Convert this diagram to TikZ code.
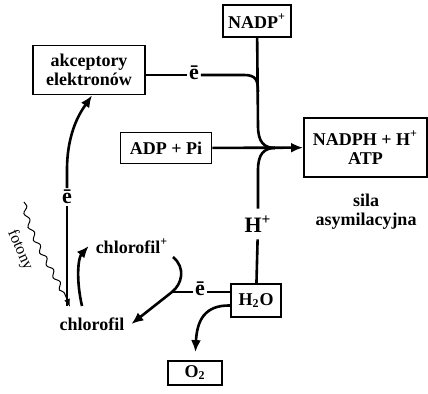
\documentclass[tikz,border=0pt]{standalone}
\usepackage{fontspec}
\setmainfont{Liberation Serif}
\usetikzlibrary{arrows.meta,decorations.pathmorphing}

\begin{document}
\begin{tikzpicture}[x=0.5pt,y=-0.5pt,
  font=\fontsize{9}{9.5}\selectfont\bfseries,
  box/.style={draw, line width=0.9pt, align=center, inner sep=1pt},
  line/.style={line width=1.3pt},
  arr/.style={line width=1.3pt, -{Latex[length=6pt,width=5pt]}},
  elec/.style={inner sep=0.8pt, fill=white, font=\fontsize{11}{11}\selectfont\bfseries}]
\useasboundingbox (0,0) rectangle (428,394);

% pola
\node[box, minimum width=56pt, minimum height=24.5pt] (akcept) at (89,70) {akceptory\\elektronów};
\node[box, minimum width=34pt, minimum height=16pt] (nadp) at (257,21) {NADP\textsuperscript{+}};
\node[box, minimum width=45.5pt, minimum height=15.5pt] (adp) at (166,148) {ADP + Pi};
\node[box, minimum width=61.5pt, minimum height=29.5pt] (produkt) at (365.5,147.5) {NADPH + H\textsuperscript{+}\\ATP};
\node[box, minimum width=25pt, minimum height=16.5pt] (woda) at (256,300.5) {H\textsubscript{2}O};
\node[box, minimum width=27pt, minimum height=12pt] (tlen) at (195,373) {O\textsubscript{2}};

% napisy
\node[align=center] (sila) at (366,212) {sila\\asymilacyjna};
\node[font=\fontsize{11}{11}\selectfont\bfseries] (hplus) at (258,224) {H\textsuperscript{+}};
\node (chlplus) at (132,246) {chlorofil\textsuperscript{+}};
\node (chl) at (92,324) {chlorofil};
\node[rotate=-66, font=\fontsize{8}{8}\selectfont, inner sep=0pt] (fotony) at (20,250) {fotony};
\node[elec] (e1) at (194,73) {ē};
\node[elec] (e2) at (67,197) {ē};
\node[elec] (e3) at (200,289) {ē};

% punkty
\coordinate (zb) at (275,148);
\coordinate (c1) at (67,306);
\coordinate (c2) at (82,306);
\coordinate (c3) at (173,257);
\coordinate (y) at (172,292);
\coordinate (f1) at (24,202);
\coordinate (f2) at (70,307);

% polaczenia
\draw[line] (akcept.east |- 0,75) -- (e1.west |- 0,75);
\draw[line] (e1.east |- 0,75) -- (244,75) .. controls (256,75) and (258,80) .. (258,92);
\draw[line] (nadp) -- (258,126) .. controls (258,142) and (264,148) .. (zb);
\draw[line] (hplus) -- (258,170) .. controls (258,154) and (264,148) .. (zb);
\draw[arr] (adp) -- (produkt);
\draw[line] (woda) -- (hplus);

\draw[line] (c1) -- (e2);
\draw[arr] (e2) -- (67,170) .. controls (67,130) and (82,110) .. ([xshift=1.5pt]akcept.south);
\draw[arr] (c2) .. controls (76,280) and (78,258) .. (chlplus.west);

\draw[arr] (c3) .. controls (186,268) and (182,284) .. (y) -- (chl.east);
\draw[line] (e3.west |- 0,292) .. controls (184,292) and (177,292) .. (y);
\draw[line] (e3.east |- 0,292) -- (woda.west |- 0,292);
\draw[arr, shorten >=4pt] ([yshift=-2.5pt]woda.west) .. controls (205,305) and (197,320) .. (tlen.north);

% fotony
\draw[line width=0.5pt, decorate,
  decoration={snake, amplitude=1.1pt, segment length=7pt, post length=5pt},
  -{Latex[length=4pt,width=3pt]}] (f1) .. controls (30,240) and (56,268) .. (f2);
\end{tikzpicture}
\end{document}
